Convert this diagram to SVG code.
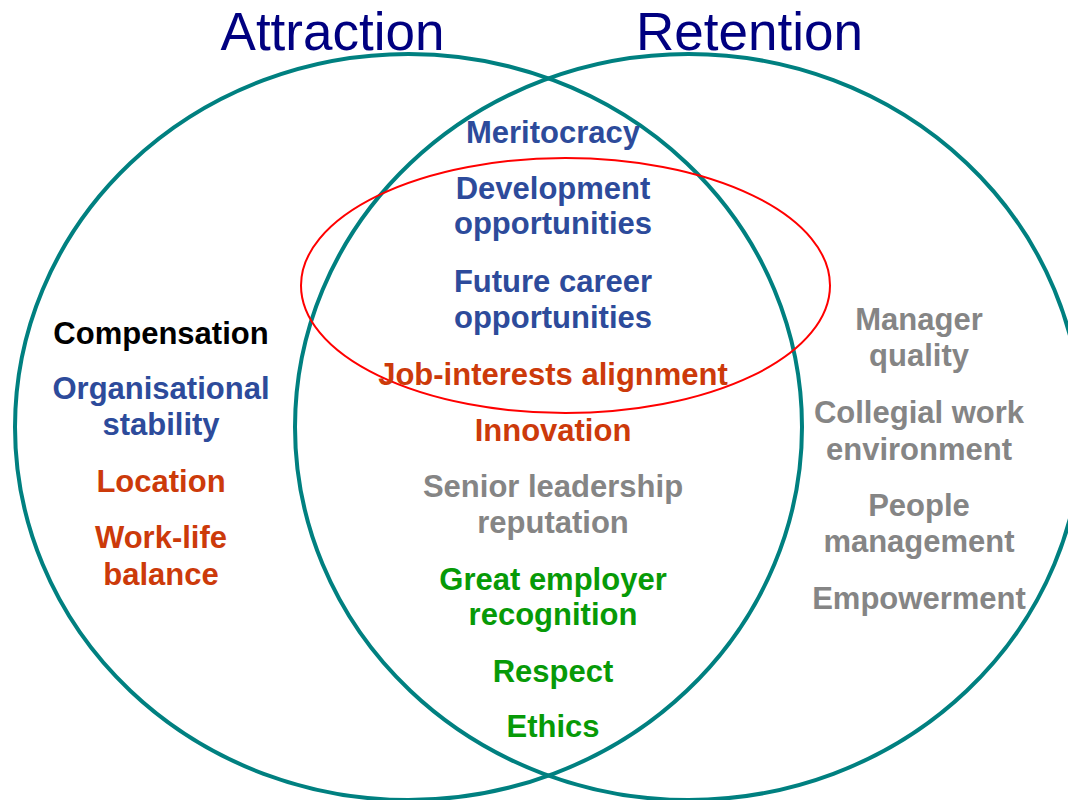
<svg xmlns="http://www.w3.org/2000/svg" width="1068" height="800" viewBox="0 0 1068 800">
<style>
.title{font-family:"Liberation Sans",Arial,sans-serif;font-size:53px;fill:#000080;text-anchor:middle}
.t{font-family:"Liberation Sans",Arial,sans-serif;font-size:31px;font-weight:bold;text-anchor:middle}
.blue{fill:#2d4b9b}.red{fill:#cc3a0a}.grey{fill:#858585}.green{fill:#079a07}.black{fill:#000}
.venn{fill:none;stroke:#008080;stroke-width:4}
</style>
<rect width="1068" height="800" fill="#fff"/>
<g id="attraction">
<ellipse class="venn" cx="408.5" cy="427" rx="393.5" ry="373"/>
<text class="title" x="332.5" y="50">Attraction</text>
</g>
<g id="retention">
<ellipse class="venn" cx="688.5" cy="427" rx="393.5" ry="373"/>
<text class="title" x="749.5" y="50">Retention</text>
</g>
<g id="highlight">
<ellipse cx="565.5" cy="285.5" rx="264.5" ry="127.5" fill="none" stroke="#ff0000" stroke-width="2"/>
</g>
<g id="left-items">
<text class="t black" x="161" y="344">Compensation</text>
<text class="t blue" x="161" y="399">Organisational</text>
<text class="t blue" x="161" y="435">stability</text>
<text class="t red" x="161" y="492">Location</text>
<text class="t red" x="161" y="548">Work-life</text>
<text class="t red" x="161" y="585">balance</text>
</g>
<g id="middle-items">
<text class="t blue" x="553" y="143">Meritocracy</text>
<text class="t blue" x="553" y="199">Development</text>
<text class="t blue" x="553" y="234">opportunities</text>
<text class="t blue" x="553" y="292">Future career</text>
<text class="t blue" x="553" y="328">opportunities</text>
<text class="t red" x="553" y="385">Job-interests alignment</text>
<text class="t red" x="553" y="441">Innovation</text>
<text class="t grey" x="553" y="497">Senior leadership</text>
<text class="t grey" x="553" y="533">reputation</text>
<text class="t green" x="553" y="590">Great employer</text>
<text class="t green" x="553" y="625">recognition</text>
<text class="t green" x="553" y="682">Respect</text>
<text class="t green" x="553" y="737">Ethics</text>
</g>
<g id="right-items">
<text class="t grey" x="919" y="330">Manager</text>
<text class="t grey" x="919" y="366">quality</text>
<text class="t grey" x="919" y="423">Collegial work</text>
<text class="t grey" x="919" y="460">environment</text>
<text class="t grey" x="919" y="516">People</text>
<text class="t grey" x="919" y="552">management</text>
<text class="t grey" x="919" y="609">Empowerment</text>
</g>
</svg>
